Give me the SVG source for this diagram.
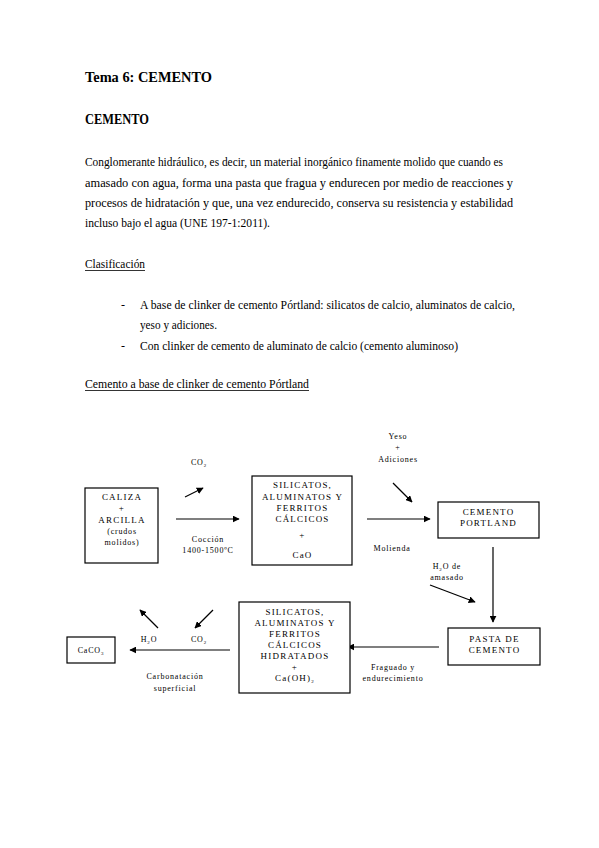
<svg xmlns="http://www.w3.org/2000/svg" width="599" height="848" viewBox="0 0 599 848">
<style>
.t{font-family:"Liberation Serif","Times New Roman",serif;fill:#000}
.h{font-size:14px;font-weight:bold}
.p{font-size:12px}
.s{font-size:8px;text-anchor:middle;letter-spacing:0.8px}
.b{font-size:9px;text-anchor:middle;letter-spacing:1.2px}
.box{fill:#fff;stroke:#000;stroke-width:1.2}
.c{stroke:#000;stroke-width:1.2;fill:none;marker-end:url(#ah)}
.u{stroke:#000;stroke-width:0.8}
</style>
<defs>
<marker id="ah" viewBox="0 0 10 10" refX="9" refY="5" markerWidth="7" markerHeight="7" markerUnits="userSpaceOnUse" orient="auto">
<path d="M0,0 L10,5 L0,10 z" fill="#000"/>
</marker>
</defs>
<rect width="599" height="848" fill="#fff"/>
<g id="text">
<text class="t h" x="85" y="82" textLength="127" lengthAdjust="spacingAndGlyphs">Tema 6: CEMENTO</text>
<text class="t h" x="85" y="124" textLength="64" lengthAdjust="spacingAndGlyphs">CEMENTO</text>
<text class="t p" x="85" y="166" textLength="418" lengthAdjust="spacingAndGlyphs">Conglomerante hidráulico, es decir, un material inorgánico finamente molido que cuando es</text>
<text class="t p" x="85" y="187" textLength="428" lengthAdjust="spacingAndGlyphs">amasado con agua, forma una pasta que fragua y endurecen por medio de reacciones y</text>
<text class="t p" x="85" y="207" textLength="428" lengthAdjust="spacingAndGlyphs">procesos de hidratación y que, una vez endurecido, conserva su resistencia y estabilidad</text>
<text class="t p" x="85" y="227" textLength="185" lengthAdjust="spacingAndGlyphs">incluso bajo el agua (UNE 197-1:2011).</text>
<text class="t p" x="85" y="268" textLength="60" lengthAdjust="spacingAndGlyphs">Clasificación</text>
<line class="u" x1="85" y1="270.5" x2="145" y2="270.5"/>
<text class="t p" x="121" y="309">-</text>
<text class="t p" x="140" y="309" textLength="375" lengthAdjust="spacingAndGlyphs">A base de clinker de cemento Pórtland: silicatos de calcio, aluminatos de calcio,</text>
<text class="t p" x="140" y="329" textLength="77" lengthAdjust="spacingAndGlyphs">yeso y adiciones.</text>
<text class="t p" x="121" y="350">-</text>
<text class="t p" x="140" y="350" textLength="318" lengthAdjust="spacingAndGlyphs">Con clinker de cemento de aluminato de calcio (cemento aluminoso)</text>
<text class="t p" x="85" y="388" textLength="224" lengthAdjust="spacingAndGlyphs">Cemento a base de clinker de cemento Pórtland</text>
<line class="u" x1="85" y1="390.5" x2="309" y2="390.5"/>
</g>
<g id="connectors">
<line class="c" x1="176" y1="519" x2="239" y2="519"/>
<line class="c" x1="185" y1="497" x2="203" y2="488"/>
<line class="c" x1="367" y1="519" x2="430" y2="519"/>
<line class="c" x1="393" y1="483" x2="412" y2="502"/>
<line class="c" x1="493" y1="547" x2="493" y2="622"/>
<line class="c" x1="430" y1="585" x2="475" y2="602"/>
<line class="c" x1="439" y1="647" x2="348" y2="647"/>
<line class="c" x1="230" y1="650" x2="130" y2="650"/>
<line class="c" x1="158" y1="628" x2="140" y2="610"/>
<line class="c" x1="213" y1="610" x2="195" y2="628"/>
</g>
<g id="labels">
<text class="t s" x="199" y="465">CO<tspan font-size="5" dy="1.5">2</tspan></text>
<text class="t s" x="208" y="542">Cocción</text>
<text class="t s" x="208" y="553">1400-1500ºC</text>
<text class="t s" x="398" y="439">Yeso</text>
<text class="t s" x="398" y="450">+</text>
<text class="t s" x="398" y="462">Adiciones</text>
<text class="t s" x="392" y="551">Molienda</text>
<text class="t s" x="447" y="569">H<tspan font-size="5" dy="1.5">2</tspan><tspan dy="-1.5">O de</tspan></text>
<text class="t s" x="447" y="580">amasado</text>
<text class="t s" x="393" y="670">Fraguado y</text>
<text class="t s" x="393" y="681">endurecimiento</text>
<text class="t s" x="149" y="642">H<tspan font-size="5" dy="1.5">2</tspan><tspan dy="-1.5">O</tspan></text>
<text class="t s" x="199" y="642">CO<tspan font-size="5" dy="1.5">2</tspan></text>
<text class="t s" x="175" y="679">Carbonatación</text>
<text class="t s" x="175" y="691">superficial</text>
</g>
<g id="caliza">
<rect class="box" x="85" y="488" width="73" height="75"/>
<text class="t b" x="122" y="500">CALIZA</text>
<text class="t b" x="122" y="511">+</text>
<text class="t b" x="122" y="523">ARCILLA</text>
<text class="t s" x="122" y="534">(crudos</text>
<text class="t s" x="122" y="545">molidos)</text>
</g>
<g id="silicatos">
<rect class="box" x="252" y="476" width="100" height="89"/>
<text class="t b" x="302.5" y="488">SILICATOS,</text>
<text class="t b" x="302.5" y="500">ALUMINATOS Y</text>
<text class="t b" x="302.5" y="511">FERRITOS</text>
<text class="t b" x="302.5" y="522">CÁLCICOS</text>
<text class="t b" x="302.5" y="538">+</text>
<text class="t b" x="302.5" y="558">CaO</text>
</g>
<g id="portland">
<rect class="box" x="438" y="502" width="101" height="36"/>
<text class="t b" x="488.5" y="515">CEMENTO</text>
<text class="t b" x="488.5" y="526">PORTLAND</text>
</g>
<g id="pasta">
<rect class="box" x="448" y="628" width="92" height="37"/>
<text class="t b" x="494.5" y="642">PASTA DE</text>
<text class="t b" x="494.5" y="653">CEMENTO</text>
</g>
<g id="hidratados">
<rect class="box" x="239" y="602" width="111" height="91"/>
<text class="t b" x="295" y="615">SILICATOS,</text>
<text class="t b" x="295" y="626">ALUMINATOS Y</text>
<text class="t b" x="295" y="637">FERRITOS</text>
<text class="t b" x="295" y="648">CÁLCICOS</text>
<text class="t b" x="295" y="659">HIDRATADOS</text>
<text class="t b" x="295" y="670">+</text>
<text class="t b" x="295" y="681">Ca(OH)<tspan font-size="5" dy="1.5">2</tspan></text>
</g>
<g id="caco3">
<rect class="box" x="67" y="637" width="48" height="26"/>
<text class="t s" x="91" y="653">CaCO<tspan font-size="5" dy="1.5">3</tspan></text>
</g>
</svg>
